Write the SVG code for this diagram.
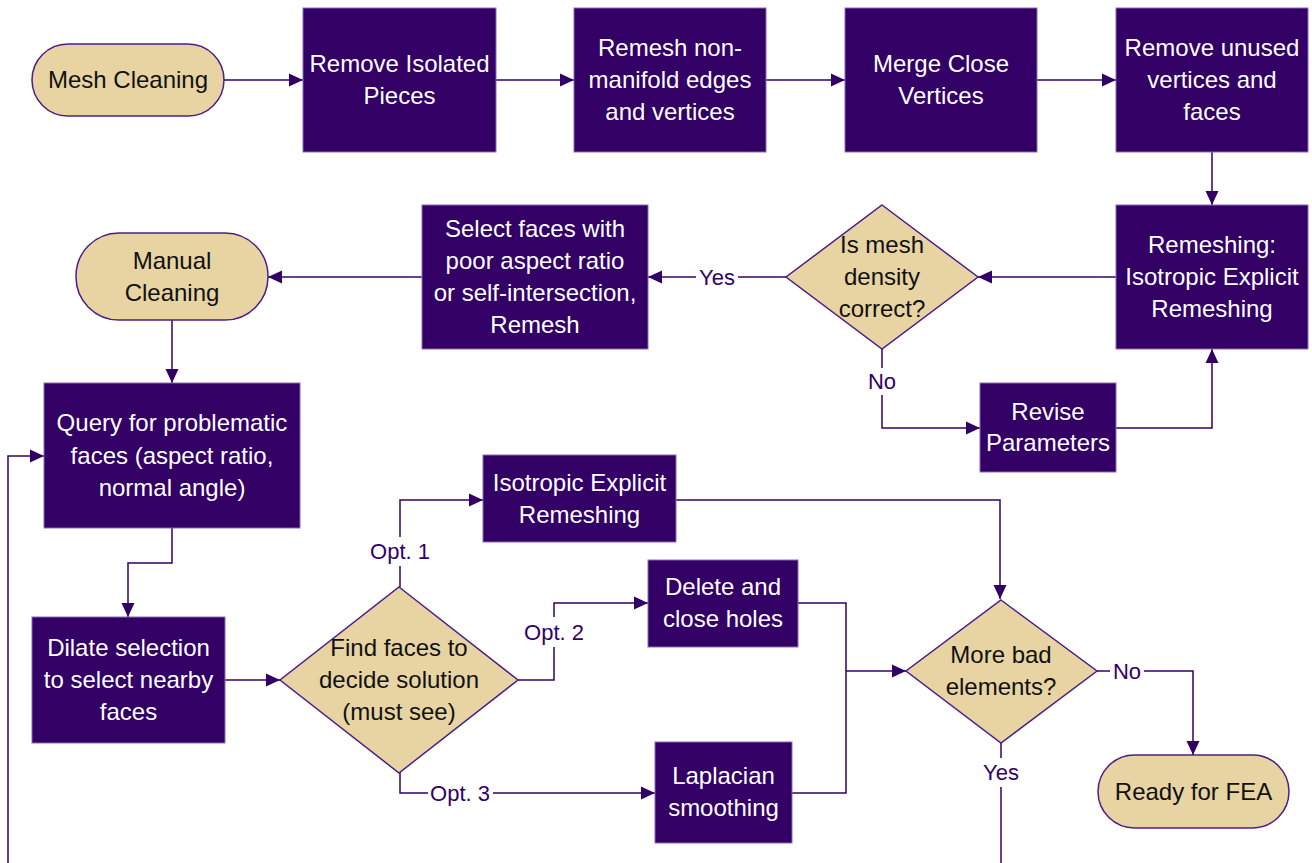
<svg xmlns="http://www.w3.org/2000/svg" width="1312" height="863" viewBox="0 0 1312 863">
<style>
.box{fill:#330066;stroke:#8a6bb5;stroke-width:1}
.term{fill:#e8d4a2;stroke:#4a1f8a;stroke-width:1.5}
.dia{fill:#e8d4a2;stroke:#4a1f8a;stroke-width:1.5}
.wt{font-family:"Liberation Sans",Arial,sans-serif;font-size:24px;fill:#ffffff;text-anchor:middle}
.bt{font-family:"Liberation Sans",Arial,sans-serif;font-size:24px;fill:#111111;text-anchor:middle}
.lbl{font-family:"Liberation Sans",Arial,sans-serif;font-size:22px;fill:#330066;text-anchor:middle}
.c{fill:none;stroke:#330066;stroke-width:1.5}
</style>
<defs>
<marker id="ah" markerUnits="userSpaceOnUse" markerWidth="14" markerHeight="14" refX="14" refY="7" orient="auto">
<path d="M0,0.5 L14,7 L0,13.5 z" fill="#330066"/>
</marker>
</defs>
<rect width="1312" height="863" fill="#ffffff"/>

<g id="connectors">
<path class="c" d="M224,80 H303" marker-end="url(#ah)"/>
<path class="c" d="M496,80 H574" marker-end="url(#ah)"/>
<path class="c" d="M766,80 H845" marker-end="url(#ah)"/>
<path class="c" d="M1037,80 H1116" marker-end="url(#ah)"/>
<path class="c" d="M1212,152 V205" marker-end="url(#ah)"/>
<path class="c" d="M1116,277 H978" marker-end="url(#ah)"/>
<path class="c" d="M786,277 H738"/>
<path class="c" d="M696,277 H648" marker-end="url(#ah)"/>
<path class="c" d="M422,277 H268" marker-end="url(#ah)"/>
<path class="c" d="M172,320 V383" marker-end="url(#ah)"/>
<path class="c" d="M882,349 V368"/>
<path class="c" d="M882,395 V428 H980" marker-end="url(#ah)"/>
<path class="c" d="M1116,428 H1212 V349" marker-end="url(#ah)"/>
<path class="c" d="M172,528 V563 H128 V617" marker-end="url(#ah)"/>
<path class="c" d="M225,680 H280" marker-end="url(#ah)"/>
<path class="c" d="M400,587 V566"/>
<path class="c" d="M400,537 V500 H483" marker-end="url(#ah)"/>
<path class="c" d="M518,680 H554 V647"/>
<path class="c" d="M554,617 V603 H648" marker-end="url(#ah)"/>
<path class="c" d="M400,772 V793 H428"/>
<path class="c" d="M493,793 H655" marker-end="url(#ah)"/>
<path class="c" d="M676,500 H1000 V599" marker-end="url(#ah)"/>
<path class="c" d="M798,603 H846 V793 H792"/>
<path class="c" d="M846,671 H906" marker-end="url(#ah)"/>
<path class="c" d="M1097,671 H1110"/>
<path class="c" d="M1144,671 H1193 V755" marker-end="url(#ah)"/>
<path class="c" d="M1001,743 V758"/>
<path class="c" d="M1001,787 V863"/>
<path class="c" d="M8,863 V456 H44" marker-end="url(#ah)"/>
<text class="lbl" x="717" y="285">Yes</text>
<text class="lbl" x="882" y="389">No</text>
<text class="lbl" x="400" y="559">Opt. 1</text>
<text class="lbl" x="554" y="640">Opt. 2</text>
<text class="lbl" x="460" y="801">Opt. 3</text>
<text class="lbl" x="1127" y="679">No</text>
<text class="lbl" x="1001" y="780">Yes</text>
</g>

<g id="mesh-cleaning">
<rect class="term" x="32" y="44" width="192" height="72" rx="36"/>
<text class="bt" x="128" y="88">Mesh Cleaning</text>
</g>
<g id="remove-isolated">
<rect class="box" x="303" y="8" width="193" height="144"/>
<text class="wt" x="399.5" y="72">Remove Isolated</text>
<text class="wt" x="399.5" y="104">Pieces</text>
</g>
<g id="remesh-nonmanifold">
<rect class="box" x="574" y="8" width="192" height="144"/>
<text class="wt" x="670" y="56">Remesh non-</text>
<text class="wt" x="670" y="88">manifold edges</text>
<text class="wt" x="670" y="120">and vertices</text>
</g>
<g id="merge-close">
<rect class="box" x="845" y="8" width="192" height="144"/>
<text class="wt" x="941" y="72">Merge Close</text>
<text class="wt" x="941" y="104">Vertices</text>
</g>
<g id="remove-unused">
<rect class="box" x="1116" y="8" width="192" height="144"/>
<text class="wt" x="1212" y="56">Remove unused</text>
<text class="wt" x="1212" y="88">vertices and</text>
<text class="wt" x="1212" y="120">faces</text>
</g>
<g id="remeshing">
<rect class="box" x="1116" y="205" width="192" height="144"/>
<text class="wt" x="1212" y="253">Remeshing:</text>
<text class="wt" x="1212" y="285">Isotropic Explicit</text>
<text class="wt" x="1212" y="317">Remeshing</text>
</g>
<g id="mesh-density">
<polygon class="dia" points="882,205 978,277 882,349 786,277"/>
<text class="bt" x="882" y="253">Is mesh</text>
<text class="bt" x="882" y="285">density</text>
<text class="bt" x="882" y="317">correct?</text>
</g>
<g id="select-faces">
<rect class="box" x="422" y="205" width="226" height="144"/>
<text class="wt" x="535" y="237">Select faces with</text>
<text class="wt" x="535" y="269">poor aspect ratio</text>
<text class="wt" x="535" y="301">or self-intersection,</text>
<text class="wt" x="535" y="333">Remesh</text>
</g>
<g id="manual-cleaning">
<rect class="term" x="76" y="233" width="192" height="87" rx="43"/>
<text class="bt" x="172" y="269">Manual</text>
<text class="bt" x="172" y="301">Cleaning</text>
</g>
<g id="revise-parameters">
<rect class="box" x="980" y="383" width="136" height="89"/>
<text class="wt" x="1048" y="420">Revise</text>
<text class="wt" x="1048" y="451">Parameters</text>
</g>
<g id="query">
<rect class="box" x="44" y="383" width="256" height="145"/>
<text class="wt" x="172" y="431">Query for problematic</text>
<text class="wt" x="172" y="464">faces (aspect ratio,</text>
<text class="wt" x="172" y="496">normal angle)</text>
</g>
<g id="dilate">
<rect class="box" x="32" y="617" width="193" height="126"/>
<text class="wt" x="128.5" y="656">Dilate selection</text>
<text class="wt" x="128.5" y="688">to select nearby</text>
<text class="wt" x="128.5" y="720">faces</text>
</g>
<g id="find-faces">
<polygon class="dia" points="399,587 518,680 399,773 280,680"/>
<text class="bt" x="399" y="656">Find faces to</text>
<text class="bt" x="399" y="688">decide solution</text>
<text class="bt" x="399" y="720">(must see)</text>
</g>
<g id="isotropic">
<rect class="box" x="483" y="455" width="193" height="87"/>
<text class="wt" x="579.5" y="491">Isotropic Explicit</text>
<text class="wt" x="579.5" y="523">Remeshing</text>
</g>
<g id="delete-close">
<rect class="box" x="648" y="560" width="150" height="87"/>
<text class="wt" x="723" y="595">Delete and</text>
<text class="wt" x="723" y="627">close holes</text>
</g>
<g id="laplacian">
<rect class="box" x="655" y="742" width="137" height="101"/>
<text class="wt" x="723.5" y="784">Laplacian</text>
<text class="wt" x="723.5" y="816">smoothing</text>
</g>
<g id="more-bad">
<polygon class="dia" points="1001,600 1097,671 1001,743 906,671"/>
<text class="bt" x="1001" y="663">More bad</text>
<text class="bt" x="1001" y="695">elements?</text>
</g>
<g id="ready-fea">
<rect class="term" x="1098" y="755" width="191" height="73" rx="36.5"/>
<text class="bt" x="1193.5" y="800">Ready for FEA</text>
</g>
</svg>
